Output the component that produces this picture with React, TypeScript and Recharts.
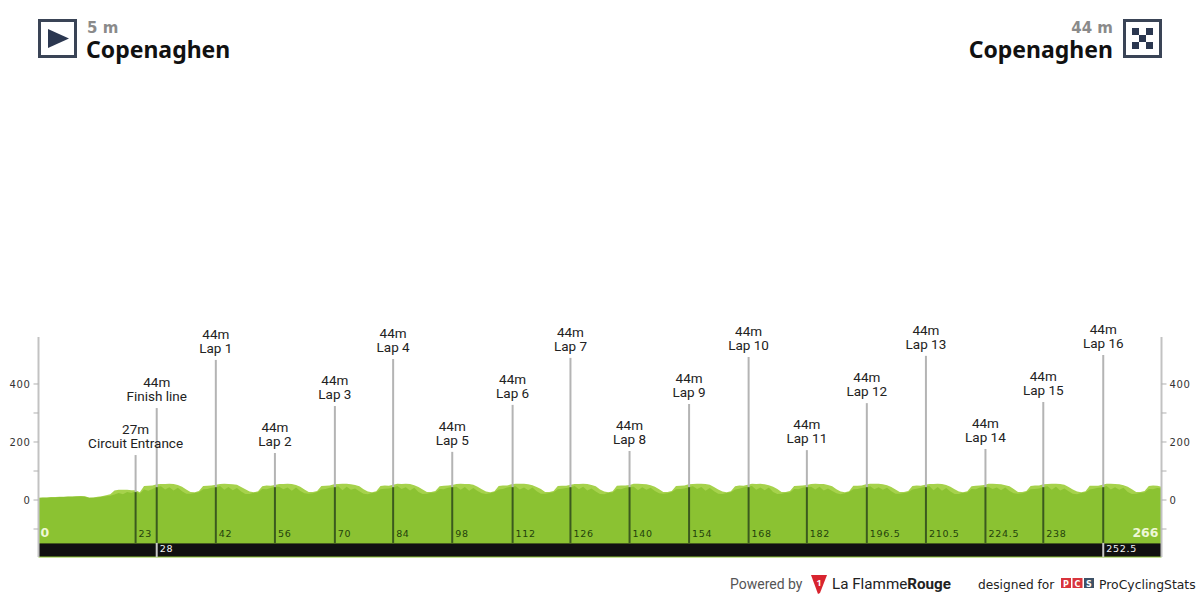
import React from "react";
import { ComposedChart, Area, XAxis, YAxis, ReferenceLine, ReferenceArea, ReferenceDot } from "recharts";

const startLabel = { name: "Copenaghen", elevation: "5 m" };
const finishLabel = { name: "Copenaghen", elevation: "44 m" };
const totalKm = 266;

const upperProfile = [
  8,9,9,10,10,11,11,12,12,13,14,13,9,9,11,13,16,20,33,35,35,35,34,34,27,48,49,50,
  54,55,55,56,55,52,46,36,28,27,31,48,49,50,
  53,55,56,55,54,53,45,37,29,27,30,47,50,49,
  52,55,55,56,55,52,46,36,28,28,31,48,49,50,
  54,55,56,56,54,52,47,37,29,27,30,48,50,49,
  53,56,55,56,55,51,45,36,28,28,31,47,49,50,
  52,55,56,55,55,53,46,37,29,27,30,48,50,50,
  54,56,56,56,54,51,45,38,28,28,31,48,49,49,
  53,55,55,56,55,52,47,36,29,27,30,49,50,50,
  52,56,56,55,54,51,46,37,28,28,31,48,49,50,
  54,55,56,56,55,53,45,36,29,27,30,47,50,49,
  53,56,55,56,54,51,46,38,28,28,31,48,49,50,
  52,55,56,55,55,52,47,37,29,27,30,49,49,50,
  54,56,56,56,54,51,45,36,28,28,31,48,50,49,
  53,55,55,56,55,52,46,37,29,27,30,47,49,50,
  52,56,56,55,54,51,47,38,28,28,31,48,50,50,
  54,55,56,56,55,53,45,36,29,27,30,49,49,49,
  53,56,56,55,54,51,46,37,28,28,31,48,50,49,
  46,
];

const lowerProfile = [
  7,8,8,9,9,10,10,11,11,12,12,11,7,8,9,11,13,15,19,24,20,28,24,30,22,36,32,38,
  45,47,36,44,33,42,30,22,22,24,27,37,38,42,
  43,48,35,45,34,41,29,21,21,25,26,38,37,41,
  46,46,37,43,32,43,31,23,22,23,28,36,38,42,
  44,47,34,46,35,40,30,22,20,24,27,37,39,40,
  43,48,38,44,33,42,28,21,22,25,26,38,37,42,
  45,46,35,45,32,41,31,23,21,23,28,36,38,43,
  46,47,36,43,34,43,30,22,22,24,27,37,39,41,
  43,48,37,46,33,40,29,21,20,25,26,38,37,42,
  45,46,34,44,35,42,31,23,22,23,28,37,38,40,
  44,47,38,45,32,41,30,22,21,24,27,36,39,43,
  46,48,35,43,34,43,28,21,22,25,26,38,37,42,
  45,46,36,46,33,40,31,23,20,23,28,37,38,41,
  43,47,37,44,35,42,30,22,22,24,27,36,39,42,
  46,48,34,45,32,41,29,21,21,25,26,38,37,43,
  44,46,38,43,34,43,31,23,22,23,28,37,38,40,
  45,47,35,46,33,40,30,22,20,24,27,36,39,42,
  43,48,36,44,35,42,28,21,22,25,26,38,37,41,
  40,
];

const markerKm = [23, 28, 42, 56, 70.2, 84, 98, 112.3, 126, 140, 154.1, 168.2, 182, 196.2, 210.2, 224.3, 238, 252.2];
const markerLabel = ["23", "28", "42", "56", "70", "84", "98", "112", "126", "140", "154", "168", "182", "196.5", "210.5", "224.5", "238", "252.5"];
const markerElevation = [27, 44, 44, 44, 44, 44, 44, 44, 44, 44, 44, 44, 44, 44, 44, 44, 44, 44];
const markerLeaderTop = [155, 317, 483, 162, 324, 486, 166, 328, 490, 169, 331, 493, 172, 334, 497, 176, 338, 500];
const markerName = ["Circuit Entrance", "Finish line", "Lap 1", "Lap 2", "Lap 3", "Lap 4", "Lap 5", "Lap 6", "Lap 7", "Lap 8", "Lap 9", "Lap 10", "Lap 11", "Lap 12", "Lap 13", "Lap 14", "Lap 15", "Lap 16"];
const stripKm = ["28", "252.5"];
const yTicks = [-100, 0, 100, 200, 300, 400];

const chartData = upperProfile.map((upper, km) => ({ km, upper, lower: lowerProfile[km] }));

const Y_MIN = -196.5;
const Y_TOP = 562;
const GROUND = -148;
const KM_LABEL_Y = -128;
const STRIP_LABEL_Y = -178;

const UI = "'Noto Sans', sans-serif";
const LABEL = "Roboto, sans-serif";
const MONO = "'DejaVu Sans', sans-serif";

const fmtTick = (v: number) => (v % 200 === 0 ? String(v) : "");
const tickStyle = { fontFamily: MONO, fontSize: 10, fill: "#333", letterSpacing: 0.6 };

function Header() {
  return (
    <svg width={1200} height={600} style={{ position: "absolute", left: 0, top: 0, pointerEvents: "none" }}>
      <rect x={39.5} y={20.5} width={36} height={36} fill="#fff" stroke="#3a4456" strokeWidth={3} />
      <polygon points="48,29 69,38.5 48,48" fill="#2b3750" />
      <text x={87} y={33} fontFamily={MONO} fontWeight={700} fontSize={15} fill="#8a8a8a">{startLabel.elevation}</text>
      <text x={86} y={58} fontFamily={UI} fontWeight={700} fontSize={23} fill="#111">{startLabel.name}</text>

      <rect x={1124.5} y={20.5} width={36} height={36} fill="#fff" stroke="#3a4456" strokeWidth={3} />
      {[[1132,28],[1146,28],[1139,35],[1132,42],[1146,42]].map(([x, y], i) => (
        <rect key={i} x={x} y={y} width={7} height={7} fill="#2b3750" />
      ))}
      <text x={1113} y={33} textAnchor="end" fontFamily={MONO} fontWeight={700} fontSize={15} fill="#8a8a8a">{finishLabel.elevation}</text>
      <text x={1113} y={58} textAnchor="end" fontFamily={UI} fontWeight={700} fontSize={23} fill="#111">{finishLabel.name}</text>

      <text x={730} y={589} fontFamily="Roboto, sans-serif" fontSize={14} fill="#555">Powered by</text>
      <polygon points="811,575 827,575 820,593 818,594" fill="#d8242f" />
      <text x={819} y={586} textAnchor="middle" fontFamily={UI} fontWeight={700} fontSize={9} fill="#fff">1</text>
      <text x={832} y={589} fontFamily="Roboto, sans-serif" fontSize={15.2} fill="#222">La Flamme<tspan fontWeight={700}>Rouge</tspan></text>

      <text x={978} y={589} fontFamily={MONO} fontSize={12.2} fill="#222">designed for</text>
      <rect x={1061} y={578} width={10} height={10} fill="#d9343c" />
      <rect x={1072.5} y={578} width={10} height={10} fill="#d9343c" />
      <rect x={1084} y={578} width={10} height={10} fill="#3d5166" />
      <text x={1066} y={586.5} textAnchor="middle" fontFamily={MONO} fontWeight={700} fontSize={8} fill="#fff">P</text>
      <text x={1077.5} y={586.5} textAnchor="middle" fontFamily={MONO} fontWeight={700} fontSize={8} fill="#fff">C</text>
      <text x={1089} y={586.5} textAnchor="middle" fontFamily={MONO} fontWeight={700} fontSize={8} fill="#fff">S</text>
      <text x={1099} y={589} fontFamily={MONO} fontSize={12.4} fill="#222">ProCyclingStats</text>
    </svg>
  );
}

const nameShape = (elev: number, name: string) => (p: any) => (
  <g>
    <text x={p.cx} y={p.cy - 21} textAnchor="middle" fontFamily={LABEL} fontSize={13.5} fill="#222">{elev}m</text>
    <text x={p.cx} y={p.cy - 7} textAnchor="middle" fontFamily={LABEL} fontSize={13.5} fill="#222">{name}</text>
  </g>
);

const kmShape = (text: string, fill: string) => (p: any) => (
  <text x={p.cx + 3} y={p.cy} fontFamily={MONO} fontSize={9.5} letterSpacing={0.7} fill={fill}>{text}</text>
);

const endShape = (text: string, anchor: "start" | "end", dx: number) => (p: any) => (
  <text x={p.cx + dx} y={p.cy} textAnchor={anchor} fontFamily={MONO} fontWeight={700} fontSize={12.5} fill="#eef7d6">{text}</text>
);

export default function App() {
  return (
    <div style={{ position: "absolute", left: 0, top: 0, width: 1200, height: 600, background: "#fff" }}>
      <ComposedChart
        width={1200}
        height={600}
        data={chartData}
        margin={{ top: 337, right: 8, bottom: 43, left: 8 }}
      >
        <XAxis dataKey="km" type="number" domain={[0, totalKm]} hide />
        <YAxis yAxisId="l" orientation="left" width={30.5} domain={[Y_MIN, Y_TOP]} ticks={yTicks} allowDataOverflow interval={0}
          tickFormatter={fmtTick} tick={tickStyle} tickSize={5} tickMargin={3}
          axisLine={{ stroke: "#c2c2c2", strokeWidth: 2 }} tickLine={{ stroke: "#b0b0b0" }} />
        <YAxis yAxisId="r" orientation="right" width={30.5} domain={[Y_MIN, Y_TOP]} ticks={yTicks} allowDataOverflow interval={0}
          tickFormatter={fmtTick} tick={tickStyle} tickSize={5} tickMargin={3}
          axisLine={{ stroke: "#c2c2c2", strokeWidth: 2 }} tickLine={{ stroke: "#b0b0b0" }} />

        <Area yAxisId="l" dataKey="upper" baseValue={GROUND} type="linear" fill="#a6d24c" fillOpacity={1} stroke="none" isAnimationActive={false} dot={false} activeDot={false} />
        <Area yAxisId="l" dataKey="lower" baseValue={GROUND} type="linear" fill="#8bc232" fillOpacity={1} stroke="none" isAnimationActive={false} dot={false} activeDot={false} />

        <ReferenceArea yAxisId="l" x1={0} x2={totalKm} y1={Y_MIN} y2={GROUND} fill="#111111" fillOpacity={1} stroke="#8bc232" strokeWidth={1} ifOverflow="visible" />

        {markerKm.map((km, i) => (
          <ReferenceLine key={"g" + i} yAxisId="l" stroke="#b4b4b4" strokeWidth={2} ifOverflow="visible"
            segment={[{ x: km, y: markerLeaderTop[i] }, { x: km, y: markerElevation[i] }]} />
        ))}
        {markerKm.map((km, i) => (
          <ReferenceLine key={"d" + i} yAxisId="l" stroke="#3b5a1e" strokeWidth={2} ifOverflow="visible"
            segment={[{ x: km, y: markerElevation[i] }, { x: km, y: GROUND }]} />
        ))}
        {markerKm.filter((_, i) => stripKm.includes(markerLabel[i])).map((km) => (
          <ReferenceLine key={"s" + km} yAxisId="l" stroke="#c8c8c8" strokeWidth={2} ifOverflow="visible"
            segment={[{ x: km, y: GROUND }, { x: km, y: Y_MIN }]} />
        ))}

        {markerKm.map((km, i) => (
          <ReferenceDot key={"n" + i} yAxisId="l" x={km} y={markerLeaderTop[i]} r={0} ifOverflow="visible"
            shape={nameShape(markerElevation[i], markerName[i])} />
        ))}
        {markerKm.map((km, i) => {
          const inStrip = stripKm.includes(markerLabel[i]);
          return (
            <ReferenceDot key={"k" + i} yAxisId="l" x={km} y={inStrip ? STRIP_LABEL_Y : KM_LABEL_Y} r={0} ifOverflow="visible"
              shape={kmShape(markerLabel[i], inStrip ? "#f2f2f2" : "#24420c")} />
          );
        })}
        <ReferenceDot yAxisId="l" x={0} y={KM_LABEL_Y} r={0} ifOverflow="visible" shape={endShape("0", "start", 2)} />
        <ReferenceDot yAxisId="l" x={totalKm} y={KM_LABEL_Y} r={0} ifOverflow="visible" shape={endShape(String(totalKm), "end", -3)} />
      </ComposedChart>
      <Header />
    </div>
  );
}
